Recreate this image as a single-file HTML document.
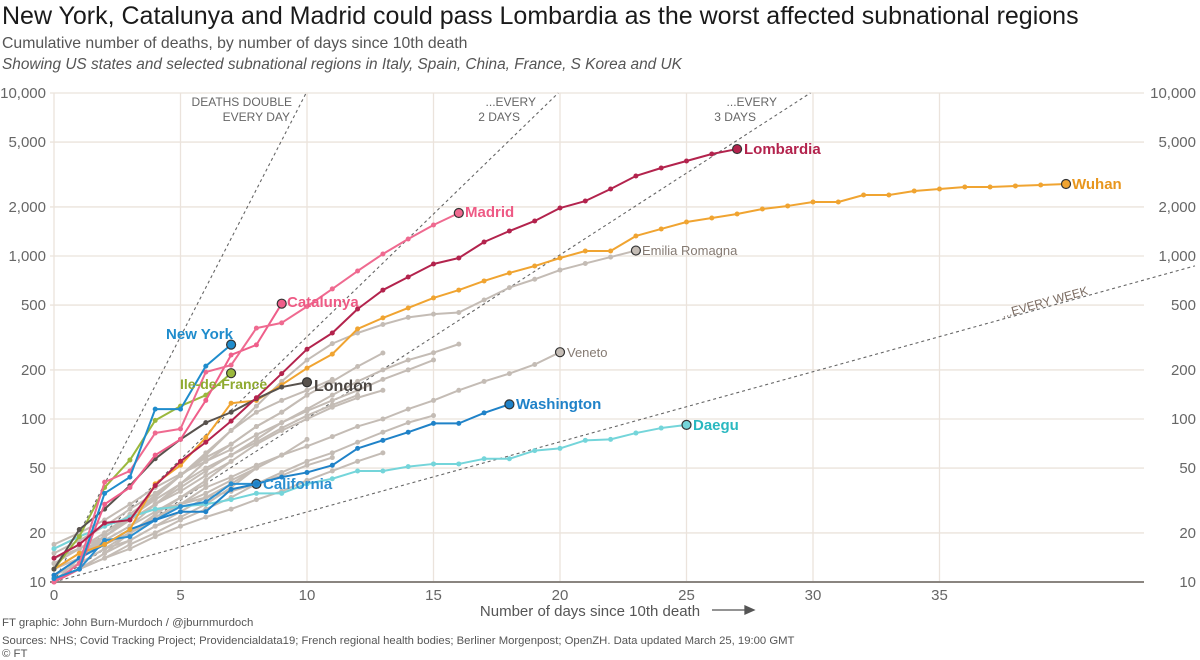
<!DOCTYPE html>
<html><head><meta charset="utf-8">
<style>
html,body{margin:0;padding:0;background:#fff;}
body{width:1200px;height:654px;overflow:hidden;font-family:"Liberation Sans",sans-serif;position:relative;}
.t{position:absolute;white-space:nowrap;}
</style></head><body>
<div class="t" style="left:2px;top:2px;font-size:25px;color:#1a1a1a;">New York, Catalunya and Madrid could pass Lombardia as the worst affected subnational regions</div>
<div class="t" style="left:2px;top:35px;font-size:15.8px;color:#555;">Cumulative number of deaths, by number of days since 10th death</div>
<div class="t" style="left:2px;top:56px;font-size:15.4px;color:#555;font-style:italic;">Showing US states and selected subnational regions in Italy, Spain, China, France, S Korea and UK</div>
<svg id="chart" width="1200" height="654" style="position:absolute;left:0;top:0;" font-family="Liberation Sans, sans-serif"></svg>
<div class="t" style="left:2px;top:617px;font-size:11.4px;color:#555;">FT graphic: John Burn-Murdoch / @jburnmurdoch</div>
<div class="t" style="left:2px;top:635px;font-size:11.3px;color:#555;">Sources: NHS; Covid Tracking Project; Providencialdata19; French regional health bodies; Berliner Morgenpost; OpenZH. Data updated March 25, 19:00 GMT</div>
<div class="t" style="left:2px;top:648px;font-size:11.4px;color:#555;">© FT</div>
<script>
const yTicks=[10,20,50,100,200,500,1000,2000,5000,10000];
const yTickLabels=["10","20","50","100","200","500","1,000","2,000","5,000","10,000"];
const xTicks=[0,5,10,15,20,25,30,35];
const lombardia=[14,17,23,24,39,55,72,97,135,190,268,337,473,618,743,893,972,1219,1423,1640,1969,2174,2577,3097,3466,3827,4224,4530];
const wuhan=[12,15,17,21,40,52,77,125,130,162,205,250,357,417,480,553,618,703,787,868,972,1073,1073,1327,1465,1617,1711,1811,1942,2028,2145,2145,2368,2368,2505,2577,2650,2650,2690,2727,2766];
const madrid=[10,13,41,48,82,87,194,214,361,389,490,628,809,1029,1272,1550,1836];
const catalunya=[10,12,30,38,60,75,130,247,285,510];
const newYork=[10.5,12,35,44,115,115,211,286];
const ileDeFrance=[12,19,38,56,98,120,140,191];
const london=[12,21,28,39,57,75,95,110,133,157,168];
const california=[10.5,12,18,19,24,29,31,40,40];
const washington=[11,14,17,21,24,27,27,37,40,44,47,52,66,74,83,94,94,109,123];
const daegu=[16,19,22,25,28,29,30,32,35,35,40,43,48,48,51,53,53,57,57,64,66,74,75,82,88,92];
const emilia=[10,14,19,25,33,45,60,85,120,170,230,290,337,380,420,440,450,537,640,720,820,900,985,1080];
const veneto=[11,13,16,20,25,30,35,42,50,60,68,78,90,100,115,130,150,170,190,216,257];
const greyA=[12,15,19,24,30,38,48,60,75,95,115,140,170,200,230,255,288];
const greyB=[10,12,15,20,26,33,42,55,70,85,100,118,135,150];
const greyC=[11,14,18,22,30,40,55,70,90,110,140,170,210,254];
const greyD=[10,12,14,17,20,24,28,33,40,47,55,62,72,83,95,105];
const greyE=[13,16,20,25,32,40,50,60,72,88,105,122,140];
const greyF=[10,12,15,18,22,27,33,40,50,60,75];
const greyG=[12,14,17,20,24,30,38,44,52,60];
const greyH=[11,13,16,18,22,25,30,38,50];
const greyI=[14,16,19,24,30,36,45,55];
const greyJ=[12,15,18,22,27,33,40];
const greyK=[15,18,22,28,35,45,58,70,90,110,140];
const greyL=[13,16,20,26,34,45,62,85,110,130,150,175];
const greyM=[17,20,24,30,38,46,55,65,80,95,112,130,150,175,200,230];
const greyN=[16,19,22,25,28,30,33,36,40,45,52,58];
const greyO=[10,12,14,16,19,22,25,28,32,36,42,48,55,62];
const refDoubling=[1,2,3,7];
const refNames=["every-day","every-2-days","every-3-days","every-week"];

const NS="http://www.w3.org/2000/svg";
const svg=document.getElementById('chart');
const X0=54,PXD=25.3,Y0=582,PXDEC=163,XR=1144,YT=93;
function xs(d){return X0+PXD*d;}
function ys(v){return Y0-PXDEC*Math.log10(v/10);}
function mk(tag,attrs){const e=document.createElementNS(NS,tag);for(const k in attrs)e.setAttribute(k,attrs[k]);svg.appendChild(e);return e;}

yTicks.forEach((v,i)=>{
  const g=mk('line',{x1:50,x2:XR,y1:ys(v),y2:ys(v),stroke:'#ebe3dc','stroke-width':1.3});
  
  
  const l=mk('text',{x:46,y:ys(v)+5,'text-anchor':'end','font-size':15,fill:'#666'});
  l.textContent=yTickLabels[i];
  
  
  const r=mk('text',{x:1196,y:ys(v)+5,'text-anchor':'end','font-size':15,fill:'#666'});
  r.textContent=yTickLabels[i];
  
  
});
xTicks.forEach(d=>{
  const g=mk('line',{x1:xs(d),x2:xs(d),y1:YT,y2:Y0,stroke:'#ebe3dc','stroke-width':1.3});
  
  
  const l=mk('text',{x:xs(d),y:600,'text-anchor':'middle','font-size':15,fill:'#666'});
  l.textContent=String(d);
  
  
});
const ax=mk('line',{x1:50,x2:XR,y1:Y0,y2:Y0,stroke:'#8a8580','stroke-width':2});


const xt=mk('text',{x:590,y:616,'text-anchor':'middle','font-size':15,fill:'#555'});
xt.textContent='Number of days since 10th death';


const ar=mk('path',{d:'M712 610 L752 610 M745 606 L754 610 L745 614 Z',stroke:'#555','stroke-width':1.3,fill:'#555'});



refDoubling.forEach((n,i)=>{
  let dEnd=n*Math.log2(1000);
  let vEnd=10000;
  if(n===7){dEnd=(1195-X0)/PXD;vEnd=10*Math.pow(2,dEnd/n);}
  const l=mk('line',{x1:xs(0),y1:ys(10),x2:xs(dEnd),y2:ys(vEnd),stroke:'#666','stroke-width':1.1,'stroke-dasharray':'3,3'});
  
  
});
function lab(txt,x,y,anchor,size,col,weight,name,rot){
  const t=mk('text',{x:x,y:y,'text-anchor':anchor,'font-size':size,fill:col,'font-weight':weight||'normal'});
  if(rot)t.setAttribute('transform','rotate('+rot+' '+x+' '+y+')');
  t.textContent=txt;
  
  
}
lab('DEATHS DOUBLE',292,106,'end',12,'#666','normal','ref-label-every-day');
lab('EVERY DAY',290,121,'end',12,'#666','normal','ref-label-every-day-2');
lab('...EVERY',536,106,'end',12,'#666','normal','ref-label-2-days');
lab('2 DAYS',520,121,'end',12,'#666','normal','ref-label-2-days-2');
lab('...EVERY',777,106,'end',12,'#666','normal','ref-label-3-days');
lab('3 DAYS',756,121,'end',12,'#666','normal','ref-label-3-days-2');
lab('...EVERY WEEK',1003,318,'start',12,'#7a6a60','normal','ref-label-week',-15.5);

function series(data,color,name,dotR,end){
  const pts=data.map((v,i)=>xs(i)+','+ys(v)).join(' ');
  const p=mk('polyline',{points:pts,fill:'none',stroke:color,'stroke-width':2,'stroke-linejoin':'round'});
  
  
  data.forEach((v,i)=>{
    const last=(i===data.length-1)&&end;
    const c=mk('circle',{cx:xs(i),cy:ys(v),r:last?4.5:dotR,fill:color,stroke:last?'#333':'none','stroke-width':last?1.2:0});
    
    
  });
}
const grey='#c4bcb5';
[greyA,greyB,greyC,greyD,greyE,greyF,greyG,greyH,greyI,greyJ,greyK,greyL,greyM,greyN,greyO].forEach((g,i)=>series(g,grey,'grey-region-'+i,2.5,false));
series(emilia,grey,'emilia-romagna',2.5,true);
series(veneto,grey,'veneto',2.5,true);
series(daegu,'#74d5da','daegu',2.5,true);
series(california,'#2b8fd0','california',2.5,true);
series(washington,'#1f82c8','washington',2.5,true);
series(wuhan,'#f0a431','wuhan',2.5,true);
series(ileDeFrance,'#9bb83c','ile-de-france',2.5,true);
series(london,'#58524d','london',2.5,true);
series(catalunya,'#ef5e8a','catalunya',2.5,true);
series(madrid,'#ef6a90','madrid',2.5,true);
series(newYork,'#1f8ccc','new-york',2.5,true);
series(lombardia,'#b3234d','lombardia',2.5,true);

lab('Lombardia',744,154,'start',15,'#b3234d','bold','label-lombardia');
lab('Wuhan',1072,189,'start',15,'#e8961d','bold','label-wuhan');
lab('Madrid',465,217,'start',15,'#ee5a85','bold','label-madrid');
lab('Emilia Romagna',642,255,'start',13,'#857a72','normal','label-emilia-romagna');
lab('Catalunya',287,307,'start',15,'#ee5a85','bold','label-catalunya');
lab('New York',233,339,'end',15,'#1f8ccc','bold','label-new-york');
lab('Ile-de-France',180,389,'start',14,'#8faa30','bold','label-ile-de-france');
lab('London',314,391,'start',16,'#4a4541','bold','label-london');
lab('Veneto',567,357,'start',13,'#857a72','normal','label-veneto');
lab('Washington',516,409,'start',15,'#1f82c8','bold','label-washington');
lab('Daegu',693,430,'start',15,'#2ab8c0','bold','label-daegu');
lab('California',263,489,'start',15,'#2b8fd0','bold','label-california');
</script>
</body></html>
